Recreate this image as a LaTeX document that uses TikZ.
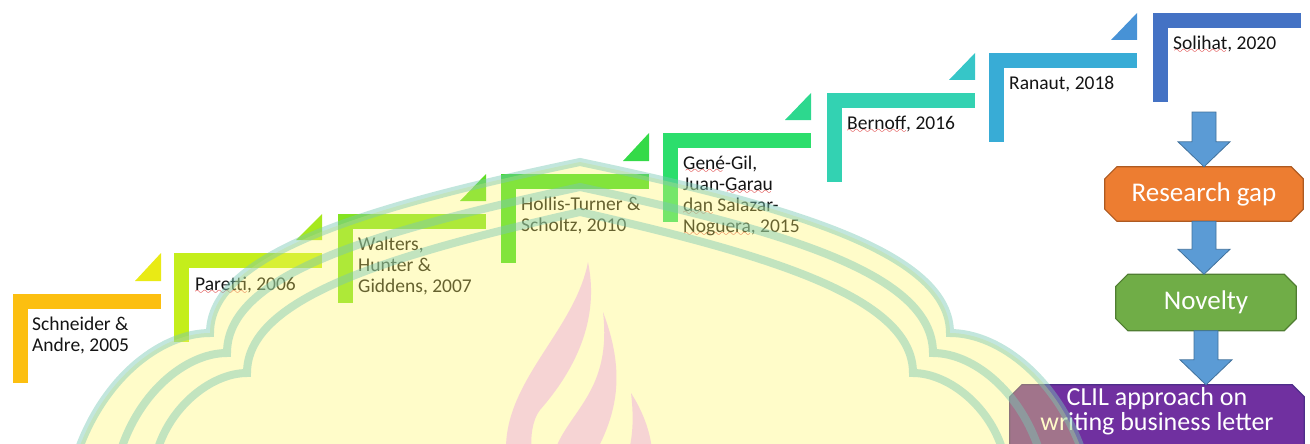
\documentclass[tikz,border=0pt]{standalone}
\usepackage{fontspec}
\setmainfont{Carlito}
\usetikzlibrary{calc,backgrounds}

\definecolor{cA}{HTML}{FCBF10}
\definecolor{tA}{HTML}{E9EA15}
\definecolor{cB}{HTML}{C4EE1B}
\definecolor{tB}{HTML}{A6E81D}
\definecolor{cC}{HTML}{83E321}
\definecolor{tC}{HTML}{5FDD25}
\definecolor{cD}{HTML}{40DB28}
\definecolor{tD}{HTML}{34DA48}
\definecolor{cE}{HTML}{2CDE6C}
\definecolor{tE}{HTML}{2DD88E}
\definecolor{cF}{HTML}{33D2B2}
\definecolor{tF}{HTML}{36C6C8}
\definecolor{cG}{HTML}{38ACD6}
\definecolor{tG}{HTML}{4792D6}
\definecolor{cH}{HTML}{4472C4}
\definecolor{wavyred}{HTML}{D81E1E}
\definecolor{txt}{HTML}{141414}
\definecolor{domefill}{RGB}{255,245,100}
\definecolor{domeline}{RGB}{120,200,180}
\definecolor{flame}{HTML}{F6D4D4}
\definecolor{arrfill}{HTML}{5B9BD5}
\definecolor{arrline}{HTML}{41719C}
\definecolor{orangeF}{HTML}{ED7D31}
\definecolor{orangeD}{HTML}{AE5A21}
\definecolor{greenF}{HTML}{70AD47}
\definecolor{greenD}{HTML}{507E32}
\definecolor{purpF}{HTML}{7030A0}
\definecolor{purpD}{HTML}{4E2D8A}

\font\wavefnt=lasy10 at 11pt
\newsavebox\splbox
\newcommand\spl[1]{\leavevmode\sbox\splbox{#1}%
  \rlap{\lower4.2pt\hbox to \wd\splbox{\color{wavyred}\cleaders\hbox{\wavefnt\char58}\hfill}}%
  \usebox\splbox}

\newcommand\octo[4]{%
  \draw[draw=#3, fill=#2, line width=1.2pt]
    ([xshift=12pt]#1.north west) -- ([xshift=-12pt]#1.north east)
    -- ([yshift=-12pt]#1.north east) -- ([yshift=12pt-#4]#1.south east)
    -- ([xshift=-12pt,yshift=-#4]#1.south east) -- ([xshift=12pt,yshift=-#4]#1.south west)
    -- ([yshift=12pt-#4]#1.south west) -- ([yshift=-12pt]#1.north west) -- cycle;}

\newcommand\blockarrow[2]{%
  \draw[barrow] let \p1=(#1), \p2=(#2) in
    (\x2-12pt,\y1) -- (\x2+12pt,\y1) -- (\x2+12pt,\y2+25pt) -- (\x2+26pt,\y2+25pt)
    -- (\x2,\y2) -- (\x2-26pt,\y2+25pt) -- (\x2-12pt,\y2+25pt) -- cycle;}

\tikzset{
  steptext/.style={anchor=north west, inner sep=0pt, align=left, text=txt,
    font=\fontsize{19.5}{21}\selectfont},
  flowbox/.style={inner sep=0pt, text=white, align=center},
  barrow/.style={fill=arrfill, draw=arrline, line width=0.8pt},
  dome/.style={draw=domeline, line width=8pt, opacity=0.45},
}

\begin{document}
\begin{tikzpicture}[x=1pt,y=-1pt]
\useasboundingbox (0,0) rectangle (1310,444);

% timeline steps
\foreach \x/\t/\c in {13/294/cA,174/253/cB,338/214/cC,501/174/cD,663/133/cE,827/93/cF,989/53/cG,1153/13/cH}{
  \fill[\c] (\x,\t) rectangle ++(148,15);
  \fill[\c] (\x,\t) rectangle ++(15,89);
}
\foreach \x/\t/\nt/\c in {13/294/253/tA,174/253/214/tB,338/214/174/tC,501/174/133/tD,663/133/93/tE,827/93/53/tF,989/53/13/tG}{
  \fill[\c] (\x+122,\t-13) -- (\x+148,\t-13) -- (\x+148,\nt) -- cycle;
}

\node[steptext] (s0) at (32,315.3) {\strut Schneider \&\\Andre, 2005};
\node[steptext] (s1) at (195,275.3) {\strut\spl{Paretti}, 2006};
\node[steptext] (s2) at (358,235.3) {\strut Walters,\\Hunter \&\\Giddens, 2007};
\node[steptext] (s3) at (521,195.3) {\strut Hollis-Turner \&\\Scholtz, 2010};
\node[steptext] (s4) at (683,154.3) {\strut\spl{Gené}-Gil,\\Juan-\spl{Garau}\\\spl{dan} Salazar-\\\spl{Noguera}, 2015};
\node[steptext] (s5) at (847,114.3) {\strut\spl{Bernoff}, 2016};
\node[steptext] (s6) at (1009,74.3) {\strut Ranaut, 2018};
\node[steptext] (s7) at (1173,34.3) {\strut\spl{Solihat}, 2020};

% flow boxes
\node[flowbox, minimum width=198pt, minimum height=54pt, font=\fontsize{27}{27}\selectfont] (gap) at (1204,194) {Research gap};
\node[flowbox, minimum width=180pt, minimum height=56pt, font=\fontsize{27}{27}\selectfont] (nov) at (1206,302.5) {Novelty};
\node[flowbox, minimum width=294pt, minimum height=52pt, font=\fontsize{26}{25}\selectfont] (clil) at (1157,411) {CLIL approach on\\writing business letter};

\begin{pgfonlayer}{background}
  \octo{gap}{orangeF}{orangeD}{0pt}
  \octo{nov}{greenF}{greenD}{0pt}
  \octo{clil}{purpF}{purpD}{30pt}
\end{pgfonlayer}

\coordinate (atop) at (1204,112);
\blockarrow{atop}{gap.north}
\blockarrow{gap.south}{gap.south |- nov.north}
\blockarrow{nov.south}{nov.south |- clil.north}

% watermark overlay
\fill[domefill, opacity=0.35] (75,460) .. controls (100,380) and (160,333) .. (210,333)
  .. controls (210,255) and (360,208) .. (580,162)
  .. controls (800,208) and (950,255) .. (950,333)
  .. controls (1000,333) and (1060,380) .. (1085,460) -- cycle;
\draw[dome] (75,460) .. controls (100,380) and (160,333) .. (210,333)
  .. controls (210,255) and (360,208) .. (580,162)
  .. controls (800,208) and (950,255) .. (950,333)
  .. controls (1000,333) and (1060,380) .. (1085,460);
\draw[dome] (118,460) .. controls (135,395) and (185,353) .. (227,353)
  .. controls (227,275) and (370,232) .. (580,187)
  .. controls (790,232) and (933,275) .. (933,353)
  .. controls (975,353) and (1025,395) .. (1042,460);
\draw[dome] (155,460) .. controls (165,410) and (210,373) .. (247,373)
  .. controls (247,300) and (380,257) .. (580,212)
  .. controls (780,257) and (913,300) .. (913,373)
  .. controls (950,373) and (995,410) .. (1005,460);

% flame
\fill[flame] (506,450) .. controls (505,380) and (575,330) .. (588,262)
  .. controls (600,320) and (575,370) .. (540,410)
  .. controls (532,420) and (530,440) .. (532,450) -- cycle;
\fill[flame] (555,450) .. controls (570,410) and (612,390) .. (603,312)
  .. controls (625,370) and (618,410) .. (597,450) -- cycle;
\fill[flame] (629,450) .. controls (634,430) and (633,410) .. (631,393)
  .. controls (642,410) and (650,430) .. (652,450) -- cycle;
\end{tikzpicture}
\end{document}
